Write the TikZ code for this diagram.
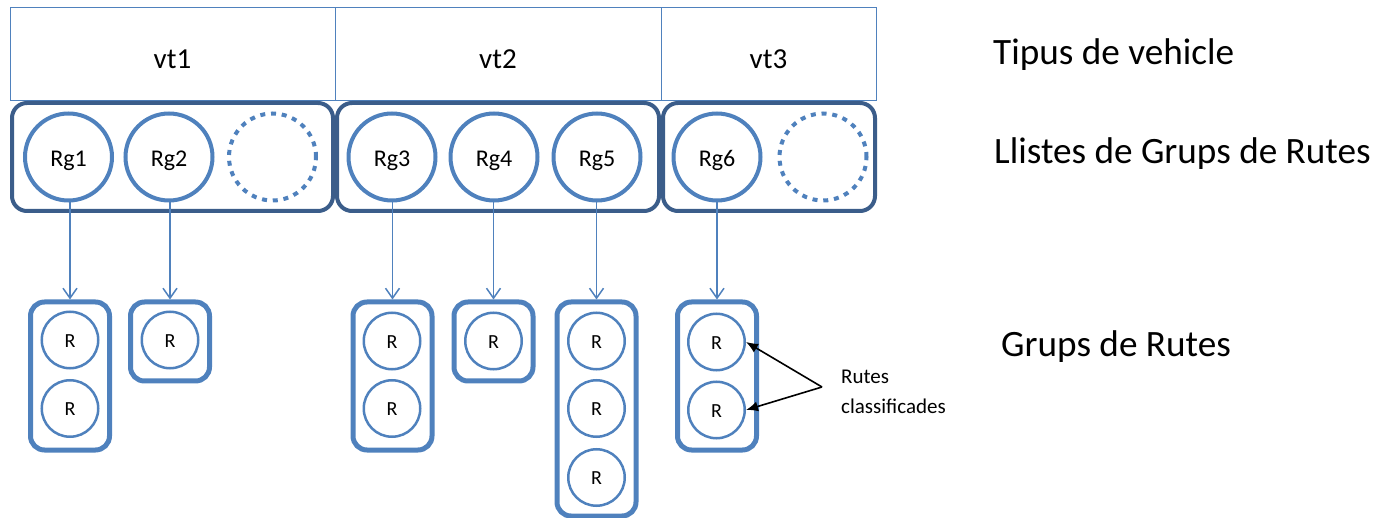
\documentclass[tikz,border=0pt]{standalone}
\usepackage{fontspec}
\setmainfont{Carlito}
\usetikzlibrary{arrows.meta}
\definecolor{accent}{HTML}{4F81BD}
\definecolor{deepblue}{HTML}{3B5D8A}

\begin{document}
\begin{tikzpicture}[x=1pt,y=-1pt,
  typebox/.style={draw=accent, line width=1pt, inner sep=0pt,
    minimum height=93pt, font=\fontsize{29}{32}\selectfont,
    text height=27.6pt, text depth=0pt},
  listbox/.style={draw=deepblue, line width=4pt, rounded corners=15pt,
    minimum height=108pt, inner sep=0pt},
  rgnode/.style={circle, draw=accent, line width=4pt, minimum size=87pt,
    inner sep=0pt, font=\fontsize{24}{26}\selectfont,
    text height=19.4pt, text depth=0pt},
  slotnode/.style={circle, draw=accent, line width=4pt, minimum size=87pt,
    inner sep=0pt, dash pattern=on 5pt off 5.8pt},
  groupbox/.style={draw=accent, line width=5pt, rounded corners=14pt,
    minimum width=79pt, inner sep=0pt},
  route/.style={circle, draw=accent, line width=2.5pt, minimum size=56.5pt,
    inner sep=0pt, font=\fontsize{20}{22}\selectfont,
    text height=14.6pt, text depth=0pt},
  link/.style={draw=accent, line width=1.5pt,
    -{Straight Barb[length=10pt,width=14pt,line width=1.5pt]}},
  pointer/.style={draw=black, line width=1.6pt,
    -{Latex[length=12pt,width=10pt]}},
  heading/.style={anchor=base west, inner sep=0pt, font=\fontsize{37.2}{40}\selectfont}
]
\useasboundingbox (0,0) rectangle (1376,518);

% vehicle types
\node[typebox, minimum width=325pt] (vt1) at (172.5,54.5) {vt1};
\node[typebox, minimum width=326pt] (vt2) at (498,54.5) {vt2};
\node[typebox, minimum width=215pt] (vt3) at (768.5,54.5) {vt3};

% lists of route groups
\node[listbox, minimum width=321pt] (L1) at (172.5,157) {};
\node[listbox, minimum width=322pt] (L2) at (498,157) {};
\node[listbox, minimum width=212pt] (L3) at (769,157) {};

\node[rgnode] (rg1) at (68.5,157) {Rg1};
\node[rgnode] (rg2) at (169,157) {Rg2};
\node[slotnode] (free1) at (272.5,157) {};
\node[rgnode] (rg3) at (392,157) {Rg3};
\node[rgnode] (rg4) at (494,157) {Rg4};
\node[rgnode] (rg5) at (597,157) {Rg5};
\node[rgnode] (rg6) at (717,157) {Rg6};
\node[slotnode] (free2) at (823,157) {};

% route groups
\node[groupbox, minimum height=148pt] (g1) at (70,376) {};
\node[groupbox, minimum height=79pt] (g2) at (170,341.5) {};
\node[groupbox, minimum height=148pt] (g3) at (392.5,376) {};
\node[groupbox, minimum height=79pt] (g4) at (493.5,341.5) {};
\node[groupbox, minimum height=214pt] (g5) at (596.5,409) {};
\node[groupbox, minimum height=148pt] (g6) at (717,376) {};

\node[route] (r1a) at (70,340) {R};
\node[route] (r1b) at (70,408.5) {R};
\node[route] (r2a) at (170,340) {R};
\node[route] (r3a) at (392,341) {R};
\node[route] (r3b) at (392,408.5) {R};
\node[route] (r4a) at (493.5,341) {R};
\node[route] (r5a) at (596.5,341) {R};
\node[route] (r5b) at (596.5,408.5) {R};
\node[route] (r5c) at (596.5,477.5) {R};
\node[route] (r6a) at (716.5,342) {R};
\node[route] (r6b) at (716.5,410) {R};

% links from each list entry to its group
\draw[link] (g1.north |- rg1.south) -- (g1.north);
\draw[link] (g2.north |- rg2.south) -- (g2.north);
\draw[link] (g3.north |- rg3.south) -- (g3.north);
\draw[link] (g4.north |- rg4.south) -- (g4.north);
\draw[link] (g5.north |- rg5.south) -- (g5.north);
\draw[link] (g6.north |- rg6.south) -- (g6.north);

% sorted routes callout
\coordinate (fork) at (822,387);
\draw[pointer] (fork) -- (r6a.east);
\draw[pointer] (fork) -- (r6b.east);
\node[anchor=north west, inner sep=0pt, align=left,
  font=\fontsize{21}{29.7}\selectfont] (callout) at (841,370) {Rutes\\classificades};

% level headings
\node[heading] (h1) at (993,64.3) {Tipus de vehicle};
\node[heading] (h2) at (994,163.3) {Llistes de Grups de Rutes};
\node[heading] (h3) at (1001,356.7) {Grups de Rutes};
\end{tikzpicture}
\end{document}
